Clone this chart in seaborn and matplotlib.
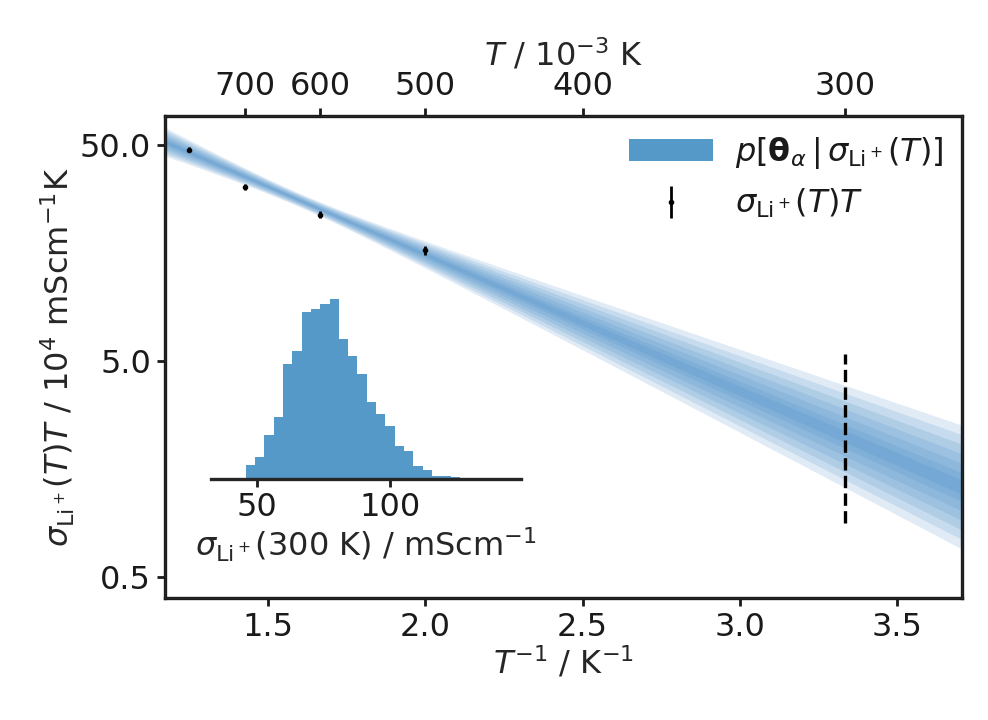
import numpy as np
import matplotlib
matplotlib.use("Agg")
import matplotlib.pyplot as plt
import pandas as pd
import seaborn as sns

# measured data (T in K, sigma*T in 1e4 mS cm^-1 K)
temps = [800, 700, 600, 500]
sigT = [47.4, 32.0, 23.8, 16.3]
sigT_err = [1.2, 1.0, 0.8, 0.8]

# fitted line in log10 space and its spread
log_intercept = 2.454   # log10(sigma T) at 1/T = 0
log_slope = -0.631      # per 1e-3 K^-1
x_centre = 1.60
spread0 = 0.012
spread1 = 0.052
z_levels = [2.6, 2.2, 1.8, 1.4, 1.0, 0.6, 0.3]

# posterior histogram of sigma(300 K)
hist_edges_start = 42.5
hist_binw = 3.48
hist_heights = [3, 40, 66, 130, 186, 343, 383, 500, 508, 525, 540, 420, 368,
                313, 231, 195, 158, 98, 84, 37, 27, 9, 7, 5]

blue = "#5599c8"
fs = 23

sns.set_style("ticks")
plt.rcParams["font.family"] = ["DejaVu Sans"]
plt.rcParams["mathtext.fontset"] = "dejavusans"
plt.rcParams["text.color"] = "#1a1a1a"

fig = plt.figure(figsize=(9.88, 7.2), dpi=100)
ax = fig.add_axes([0.167, 0.169, 0.807, 0.670])

x = np.linspace(1.17, 3.72, 300)
centre = log_intercept + log_slope * x
s = np.sqrt(spread0**2 + (spread1 * (x - x_centre))**2)
for i, z in enumerate(z_levels):
    ax.fill_between(x, 10**(centre - z * s), 10**(centre + z * s),
                    color="#3f88c5", alpha=0.16, lw=0,
                    label=r"$p[\mathbf{\theta}_\alpha\,|\,\sigma_{\mathrm{Li}^+}(T)]$" if i == 0 else None)

inv_t = [1000 / t for t in temps]
ax.errorbar(inv_t, sigT, yerr=sigT_err, fmt="o", color="k", ms=3,
            elinewidth=2, capsize=0, label=r"$\sigma_{\mathrm{Li}^+}(T)T$")
ax.plot([1000 / 300, 1000 / 300], [0.89, 5.4], ls="--", color="k", lw=2.4)

ax.set_yscale("log")
ax.set_xlim(1.174, 3.706)
ax.set_ylim(0.40, 68)
ax.set_yticks([0.5, 5.0, 50.0])
ax.set_yticklabels(["0.5", "5.0", "50.0"])
ax.minorticks_off()
ax.tick_params(labelsize=fs, width=2, length=6, colors="#1a1a1a", pad=4)
for sp in ax.spines.values():
    sp.set_linewidth(2.4)
    sp.set_color("#1a1a1a")
ax.set_xlabel(r"$T^{-1}$ / K$^{-1}$", fontsize=fs, labelpad=1)
ax.set_ylabel(r"$\sigma_{\mathrm{Li}^+}(T)T$ / 10$^4$ mScm$^{-1}$K", fontsize=fs,
              labelpad=2)

h, l = ax.get_legend_handles_labels()
leg = ax.legend(h, l, loc="upper right", fontsize=fs, frameon=False,
                handlelength=2.6, handletextpad=0.7, borderaxespad=0.2,
                labelspacing=0.5)
for lh in leg.legend_handles[:1]:
    lh.set_alpha(1.0)
    lh.set_color(blue)

top = ax.twiny()
top.set_xlim(ax.get_xlim())
top_t = [700, 600, 500, 400, 300]
top.set_xticks([1000 / t for t in top_t])
top.set_xticklabels([str(t) for t in top_t])
top.tick_params(labelsize=fs, width=2, length=6, colors="#1a1a1a", pad=4)
top.set_xlabel(r"$T$ / 10$^{-3}$ K", fontsize=fs, labelpad=4)

ins = fig.add_axes([0.2136, 0.335, 0.314, 0.25])
edges = list(hist_edges_start + hist_binw * np.arange(len(hist_heights) + 1))
centres = [(a + b) / 2 for a, b in zip(edges[:-1], edges[1:])]
hist_df = pd.DataFrame({"sigma300": centres, "count": hist_heights})
sns.histplot(data=hist_df, x="sigma300", weights="count", bins=edges, ax=ins,
             color=blue, alpha=1.0, linewidth=0)
ins.set_xlim(33, 149)
ins.set_ylim(0, 540)
ins.patch.set_alpha(0)
for k in ["left", "right", "top"]:
    ins.spines[k].set_visible(False)
ins.spines["bottom"].set_linewidth(2.4)
ins.set_yticks([])
ins.set_ylabel("")
ins.set_xticks([50, 100])
ins.tick_params(labelsize=fs, width=2, length=6, colors="#1a1a1a")
ins.set_xlabel(r"$\sigma_{\mathrm{Li}^+}$(300 K) / mScm$^{-1}$", fontsize=fs, labelpad=2)

fig.savefig("out.png", dpi=100)
